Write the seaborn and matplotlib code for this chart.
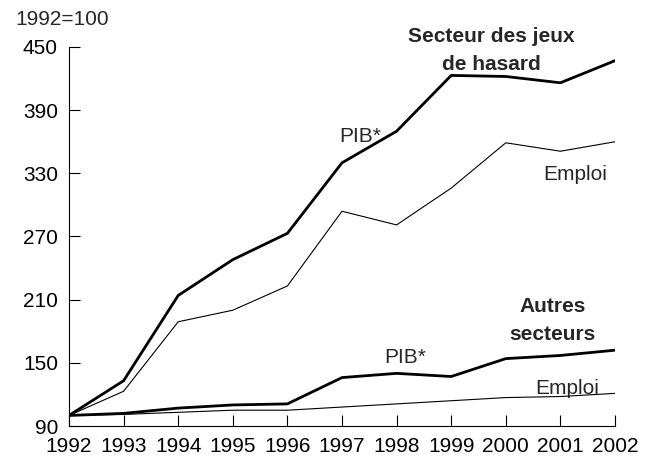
import matplotlib
matplotlib.use("Agg")
import matplotlib.pyplot as plt
import seaborn as sns
import pandas as pd

years = list(range(1992, 2003))
jeux_pib = [100, 133, 214, 248, 273, 340, 370, 423, 422, 416, 437]
jeux_emploi = [100, 123, 189, 200, 223, 294, 281, 316, 359, 351, 360]
autres_pib = [100, 102, 107, 110, 111, 136, 140, 137, 154, 157, 162]
autres_emploi = [100, 101, 103, 105, 105, 108, 111, 114, 117, 118, 121]
y_ticks = [90, 150, 210, 270, 330, 390, 450]

series = {
    "jeux_pib": jeux_pib,
    "jeux_emploi": jeux_emploi,
    "autres_pib": autres_pib,
    "autres_emploi": autres_emploi,
}
df = pd.concat(
    [pd.DataFrame({"year": years, "value": v, "series": k}) for k, v in series.items()],
    ignore_index=True,
)

sns.set_style("ticks")
plt.rcParams["font.family"] = ["Liberation Sans", "DejaVu Sans"]

fig = plt.figure(figsize=(6.52, 4.61), dpi=100)
ax = fig.add_axes([69 / 652, 1 - 426 / 461, (615 - 69) / 652, (426 - 47) / 461])

widths = {"jeux_pib": 2.0, "jeux_emploi": 0.8, "autres_pib": 2.0, "autres_emploi": 0.8}
for k in series:
    sns.lineplot(data=df[df.series == k], x="year", y="value", ax=ax,
                 color="black", linewidth=widths[k], legend=False)

ax.set_xlim(1992, 2002)
ax.set_ylim(90, 450)
ax.set_xticks(years)
ax.set_yticks(y_ticks)
ax.set_xlabel("")
ax.set_ylabel("")
for s in ["top", "right"]:
    ax.spines[s].set_visible(False)
for s in ["left", "bottom"]:
    ax.spines[s].set_color("black")
    ax.spines[s].set_linewidth(0.8)
ax.tick_params(axis="both", direction="in", length=8, width=0.8, colors="black",
               labelsize=15)
ax.tick_params(axis="y", pad=8)
ax.tick_params(axis="x", pad=8)

fs = 15
bold = dict(fontsize=fs, fontweight="bold", ha="center", va="baseline")
norm = dict(fontsize=fs, ha="center", va="baseline")
ax.text(1999.73, 455.0, "Secteur des jeux", clip_on=False, **bold)
ax.text(1999.73, 428.1, "de hasard", **bold)
ax.text(1997.33, 360, "PIB*", **norm)
ax.text(2001.27, 323.7, "Emploi", **norm)
ax.text(2000.86, 198.6, "Autres", **bold)
ax.text(2000.86, 171.7, "secteurs", **bold)
ax.text(1998.15, 149.8, "PIB*", **norm)
ax.text(2001.13, 120.4, "Emploi", **norm)

fig.text(15 / 652, 1 - 25 / 461, "1992=100", ha="left", va="baseline", fontsize=fs)

fig.savefig("out.png", dpi=100)
